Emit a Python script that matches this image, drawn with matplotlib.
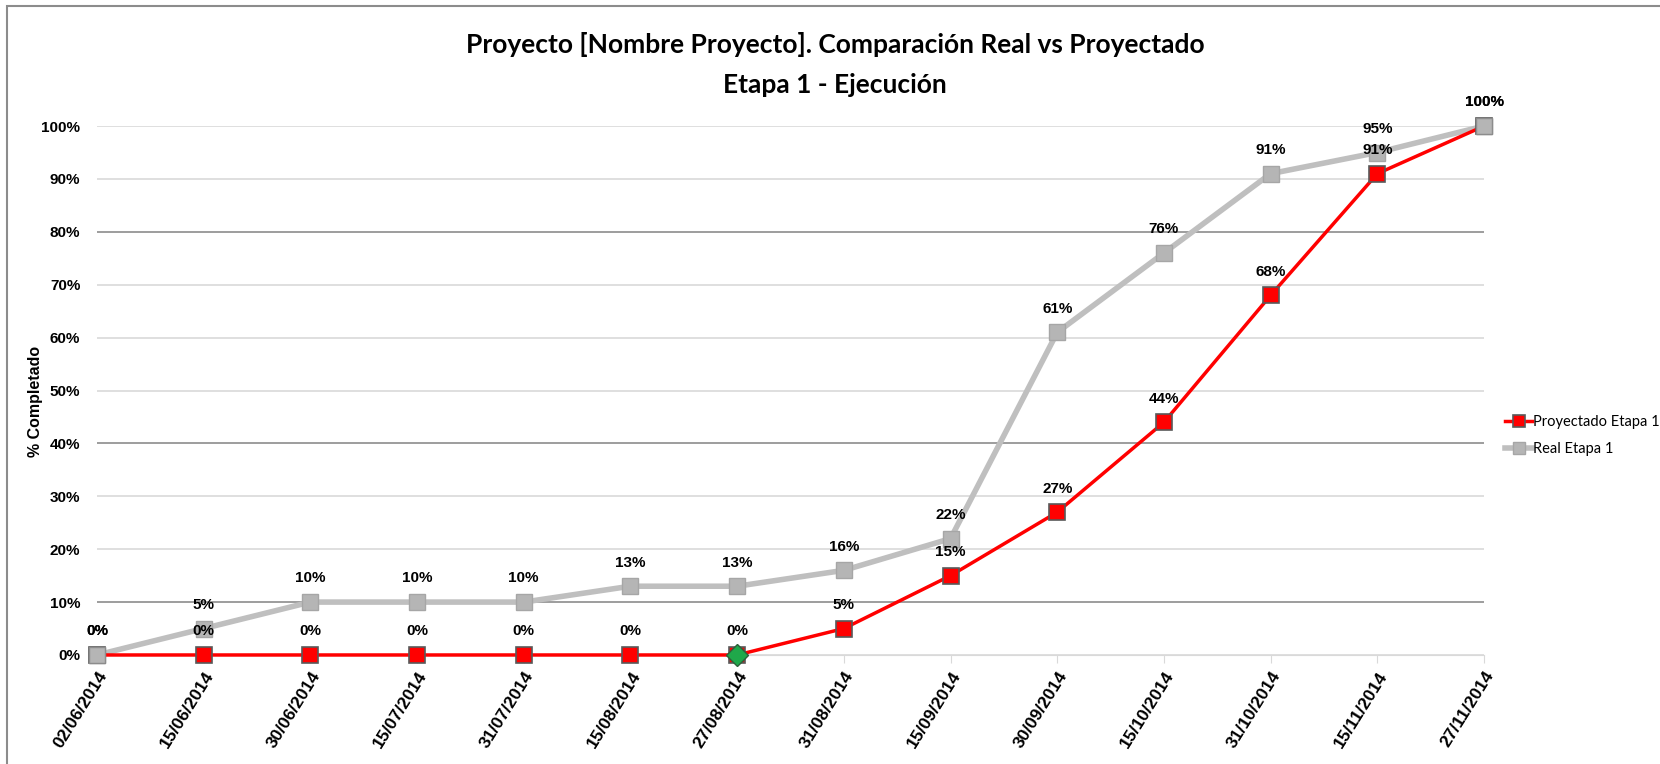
import matplotlib.pyplot as plt
from matplotlib.patches import Rectangle

fechas = ['02/06/2014', '15/06/2014', '30/06/2014', '15/07/2014', '31/07/2014',
          '15/08/2014', '27/08/2014', '31/08/2014', '15/09/2014', '30/09/2014',
          '15/10/2014', '31/10/2014', '15/11/2014', '27/11/2014']
proyectado = [0, 0, 0, 0, 0, 0, 0, 5, 15, 27, 44, 68, 91, 100]
real = [0, 5, 10, 10, 10, 13, 13, 16, 22, 61, 76, 91, 95, 100]
hito = 6  # fecha de corte, marcador verde
y_ticks = [0, 10, 20, 30, 40, 50, 60, 70, 80, 90, 100]

arial = ['Liberation Sans', 'DejaVu Sans']
calibri = ['Lato', 'DejaVu Sans']

fig = plt.figure(figsize=(16.6, 7.64), dpi=100)
ax = fig.add_axes([0.0584, 0.1427, 0.8356, 0.6923])

x = list(range(len(fechas)))

# grid lines (some render darker in the original)
for v in y_ticks:
    c = '#8c8c8c' if v in (10, 40, 80) else '#d9d9d9'
    ax.axhline(v, color=c, lw=1.2, zorder=0)

ax.plot(x, real, color='#bfbfbf', lw=4, marker='s', ms=11,
        mfc='#b5b5b5', mec='#a6a6a6', label='Real Etapa 1', zorder=2, clip_on=False)
ax.plot(x, proyectado, color='#ff0000', lw=2.5, marker='s', ms=11,
        mfc='#ff0000', mec='#595959', mew=1.2, label='Proyectado Etapa 1', zorder=3,
        clip_on=False)
# first and last grey markers sit on top in the original
ext = [0, len(x) - 1]
ax.plot([x[i] for i in ext], [real[i] for i in ext], ls='none', marker='s', ms=11,
        mfc='#b5b5b5', mec='#8c8c8c', zorder=4, clip_on=False)
ax.plot(x[hito], proyectado[hito], marker='D', ms=11, mfc='#1fa84a',
        mec='#2f5f3a', mew=1, zorder=4, ls='none', clip_on=False)

for i in range(len(x)):
    ax.annotate('%d%%' % real[i], (x[i], real[i]), xytext=(0, 17),
                textcoords='offset points', ha='center', va='center',
                fontsize=11, fontweight='bold', family=arial)
    ax.annotate('%d%%' % proyectado[i], (x[i], proyectado[i]), xytext=(0, 17),
                textcoords='offset points', ha='center', va='center',
                fontsize=11, fontweight='bold', family=arial)

ax.set_xlim(0, len(fechas) - 1)
ax.set_ylim(0, 100)
ax.set_xticks(x)
ax.set_xticklabels(fechas, rotation=58, ha='right', va='top', rotation_mode='anchor',
                   fontsize=12.5, fontweight='bold', family=arial)
ax.set_yticks(y_ticks)
ax.set_yticklabels(['%d%%' % v for v in y_ticks], fontsize=11,
                   fontweight='bold', family=arial)
ax.tick_params(axis='y', length=0, pad=12)
ax.tick_params(axis='x', length=6, color='#d9d9d9', pad=4)
for s in ['top', 'right', 'left']:
    ax.spines[s].set_visible(False)
ax.spines['bottom'].set_color('#d9d9d9')
ax.set_ylabel('% Completado', fontsize=11.5, fontweight='bold', family=arial)
ax.yaxis.set_label_coords(-0.039, 0.48)

fig.text(0.503, 0.942, 'Proyecto [Nombre Proyecto]. Comparación Real vs Proyectado',
         ha='center', va='center', fontsize=19, fontweight='bold', family=calibri)
fig.text(0.503, 0.889, 'Etapa 1 - Ejecución', ha='center', va='center',
         fontsize=19, fontweight='bold', family=calibri)

handles, labels = ax.get_legend_handles_labels()
leg = fig.legend(handles[::-1], labels[::-1], loc='center left',
                 bbox_to_anchor=(0.899, 0.43), frameon=False, handlelength=1.8,
                 handletextpad=0.1, labelspacing=0.9, markerscale=0.8,
                 prop={'family': calibri, 'size': 10.5})

fig.patches.append(Rectangle((0.0042, -0.1), 1.2, 1.092, transform=fig.transFigure,
                             fill=False, ec='#8c8c8c', lw=1.5))

fig.savefig('out.png', dpi=100)
